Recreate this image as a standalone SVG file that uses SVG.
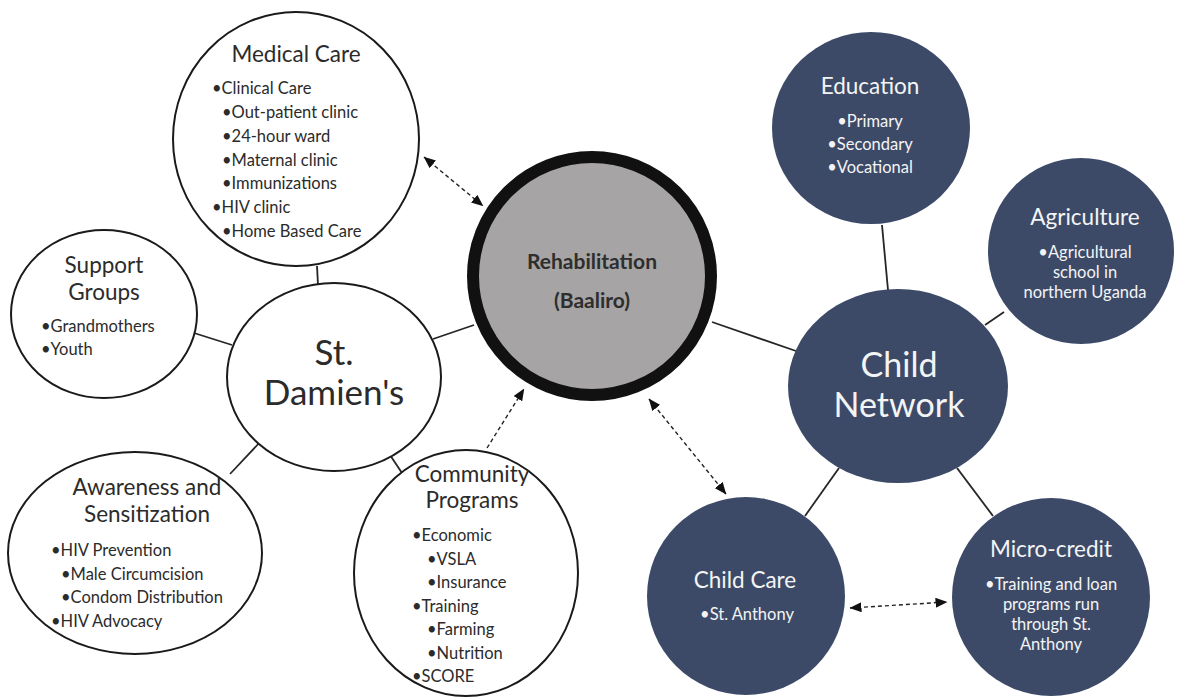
<svg xmlns="http://www.w3.org/2000/svg" width="1178" height="698" viewBox="0 0 1178 698">
  <defs>
    <marker id="arrow" viewBox="0 0 12 10" refX="11.5" refY="5" markerWidth="12" markerHeight="10" markerUnits="userSpaceOnUse" orient="auto-start-reverse">
      <path d="M0,0 L12,5 L0,10 z" fill="#111"/>
    </marker>
    <style>
      text { font-family: Lato, "Open Sans", sans-serif; }
      .ring { fill: #fff; stroke: #1a1a1a; stroke-width: 2; }
      .navy { fill: #3c4a68; }
      .hub { fill: #a6a4a4; stroke: #111; stroke-width: 12; }
      .link { stroke: #262626; stroke-width: 1.8; fill: none; }
      .dash { stroke: #222; stroke-width: 1.4; stroke-dasharray: 4 3; fill: none; }
      .title { font-size: 22.5px; fill: #2b2b2b; }
      .big { font-size: 35px; fill: #2b2b2b; }
      .item { font-size: 16.5px; fill: #2b2b2b; }
      .wtitle { font-size: 22.5px; fill: #f4f4f4; }
      .wbig { font-size: 34px; fill: #f4f4f4; }
      .witem { font-size: 16.5px; fill: #f4f4f4; }
      .mid { text-anchor: middle; }
    </style>
  </defs>

  <rect width="1178" height="698" fill="#fff"/>

  <!-- connectors: solid links between hubs and their branches, dashed arrows for cross-links -->
  <g id="connectors">
    <line class="link" x1="317" y1="266" x2="318" y2="285"/>
    <line class="link" x1="194" y1="333" x2="232" y2="345"/>
    <line class="link" x1="433" y1="339" x2="474" y2="325"/>
    <line class="link" x1="230" y1="474" x2="262" y2="440"/>
    <line class="link" x1="390" y1="455" x2="404" y2="476"/>
    <line class="link" x1="712" y1="322" x2="796" y2="351"/>
    <line class="link" x1="882" y1="225" x2="888" y2="290"/>
    <line class="link" x1="1004" y1="312" x2="985" y2="325"/>
    <line class="link" x1="839" y1="468" x2="805" y2="516"/>
    <line class="link" x1="957" y1="468" x2="993" y2="516"/>
    <line class="dash" x1="424" y1="157" x2="483" y2="206" marker-start="url(#arrow)" marker-end="url(#arrow)"/>
    <line class="dash" x1="487" y1="448" x2="524" y2="389" marker-end="url(#arrow)"/>
    <line class="dash" x1="649" y1="399" x2="726" y2="494" marker-start="url(#arrow)" marker-end="url(#arrow)"/>
    <line class="dash" x1="850" y1="608" x2="947" y2="602" marker-start="url(#arrow)" marker-end="url(#arrow)"/>
  </g>

  <g id="medical-care">
    <ellipse class="ring" cx="296" cy="139" rx="123" ry="127"/>
    <text class="title mid" x="296" y="62">Medical Care</text>
    <text class="item" x="212" y="94">•Clinical Care</text>
    <text class="item" x="222" y="118">•Out-patient clinic</text>
    <text class="item" x="222" y="142">•24-hour ward</text>
    <text class="item" x="222" y="166">•Maternal clinic</text>
    <text class="item" x="222" y="189">•Immunizations</text>
    <text class="item" x="212" y="213">•HIV clinic</text>
    <text class="item" x="222" y="237">•Home Based Care</text>
  </g>

  <g id="support-groups">
    <ellipse class="ring" cx="104" cy="314" rx="93" ry="84"/>
    <text class="title mid" x="104" y="273">Support</text>
    <text class="title mid" x="104" y="300">Groups</text>
    <text class="item" x="41" y="332">•Grandmothers</text>
    <text class="item" x="41" y="355">•Youth</text>
  </g>

  <g id="st-damiens">
    <ellipse class="ring" cx="334" cy="377" rx="107" ry="94"/>
    <text class="big mid" x="334" y="365">St.</text>
    <text class="big mid" x="334" y="405">Damien's</text>
  </g>

  <g id="awareness">
    <ellipse class="ring" cx="135" cy="553" rx="127" ry="101"/>
    <text class="title mid" x="147" y="495">Awareness and</text>
    <text class="title mid" x="147" y="522">Sensitization</text>
    <text class="item" x="51" y="556">•HIV Prevention</text>
    <text class="item" x="61" y="580">•Male Circumcision</text>
    <text class="item" x="61" y="603">•Condom Distribution</text>
    <text class="item" x="51" y="627">•HIV Advocacy</text>
  </g>

  <g id="community-programs">
    <ellipse class="ring" cx="466" cy="573" rx="112" ry="123"/>
    <text class="title mid" x="472" y="482">Community</text>
    <text class="title mid" x="472" y="508">Programs</text>
    <text class="item" x="412" y="541">•Economic</text>
    <text class="item" x="427" y="565">•VSLA</text>
    <text class="item" x="427" y="588">•Insurance</text>
    <text class="item" x="412" y="612">•Training</text>
    <text class="item" x="427" y="635">•Farming</text>
    <text class="item" x="427" y="659">•Nutrition</text>
    <text class="item" x="412" y="682">•SCORE</text>
  </g>

  <g id="rehabilitation">
    <circle class="hub" cx="592" cy="276" r="119"/>
    <text class="mid" x="592" y="269" font-size="21" font-weight="bold" fill="#2e2e2e">Rehabilitation</text>
    <text class="mid" x="592" y="308" font-size="21" font-weight="bold" fill="#2e2e2e">(Baaliro)</text>
  </g>

  <g id="education">
    <ellipse class="navy" cx="871" cy="128" rx="99" ry="96"/>
    <text class="wtitle mid" x="870" y="94">Education</text>
    <text class="witem mid" x="870" y="127">•Primary</text>
    <text class="witem mid" x="870" y="150">•Secondary</text>
    <text class="witem mid" x="870" y="173">•Vocational</text>
  </g>

  <g id="agriculture">
    <circle class="navy" cx="1081" cy="251" r="93"/>
    <text class="wtitle mid" x="1085" y="225">Agriculture</text>
    <text class="witem mid" x="1085" y="258">•Agricultural</text>
    <text class="witem mid" x="1085" y="278">school in</text>
    <text class="witem mid" x="1085" y="298">northern Uganda</text>
  </g>

  <g id="child-network">
    <ellipse class="navy" cx="898" cy="386" rx="110" ry="97"/>
    <text class="wbig mid" x="899" y="377">Child</text>
    <text class="wbig mid" x="899" y="417">Network</text>
  </g>

  <g id="child-care">
    <circle class="navy" cx="746" cy="596" r="99"/>
    <text class="wtitle mid" x="745" y="588">Child Care</text>
    <text class="witem mid" x="747" y="620">•St. Anthony</text>
  </g>

  <g id="micro-credit">
    <circle class="navy" cx="1051" cy="597" r="99"/>
    <text class="wtitle mid" x="1051" y="557">Micro-credit</text>
    <text class="witem mid" x="1051" y="590">•Training and loan</text>
    <text class="witem mid" x="1051" y="610">programs run</text>
    <text class="witem mid" x="1051" y="630">through St.</text>
    <text class="witem mid" x="1051" y="650">Anthony</text>
  </g>
</svg>
